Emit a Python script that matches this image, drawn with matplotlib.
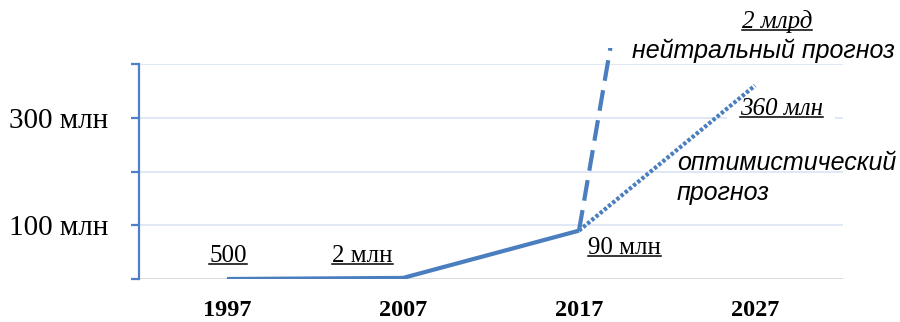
import numpy as np
import matplotlib.pyplot as plt
from matplotlib.lines import Line2D
from matplotlib.transforms import Bbox, TransformedBbox

# users, in millions
years = ['1997', '2007', '2017', '2027']
actual = [0.0005, 2, 90]
actual_labels = ['500', '2 млн', '90 млн']
neutral = [90, 2000]        # 2017 -> 2027
optimistic = [90, 360]      # 2017 -> 2027
neutral_label = '2 млрд'
optimistic_label = '360 млн'
yticks = [0, 100, 200, 300, 400]
ytick_labels = ['', '100 млн', '', '300 млн', '']

blue = '#4a7ebf'
axis_blue = '#4f7fc6'
grid_blue = '#dae4f3'
serif = 'Liberation Serif'
sans = 'Liberation Sans'

fig = plt.figure(figsize=(9, 3.22), dpi=100)
ax = fig.add_axes([0.1544, 0.1335, 0.9367 - 0.1544, 0.8012 - 0.1335])
ax.set_xlim(-0.5, 3.5)
ax.set_ylim(0, 400)

for s in ['top', 'right', 'bottom']:
    ax.spines[s].set_visible(False)
ax.spines['left'].set_color(axis_blue)
ax.spines['left'].set_linewidth(1.6)
ax.axhline(0, color='#d4d4d4', linewidth=1.2, zorder=1)
for y in yticks[1:]:
    ax.axhline(y, color=grid_blue, linewidth=1.2, zorder=1)

ax.set_yticks(yticks)
ax.set_yticklabels(ytick_labels, fontsize=21, family=serif)
ax.tick_params(axis='y', direction='out', length=6, width=1.6, color=axis_blue, pad=16)
ax.set_xticks(range(len(years)))
ax.set_xticklabels(years, fontsize=17.5, family=serif, fontweight='bold')
ax.tick_params(axis='x', length=0, pad=15)

x = np.arange(len(years))
ax.plot(x[:3], actual, color=blue, linewidth=3, solid_capstyle='butt', zorder=4)

# forecasts from 2017; the neutral one runs off the top of the chart
nline, = ax.plot(x[2:], neutral, color=blue, linewidth=3, dashes=(5, 2.3),
                 dash_capstyle='butt', zorder=4)
ax.plot(x[2:], optimistic, color=blue, linewidth=3, dashes=(0.8, 0.5),
        dash_capstyle='butt', zorder=4)
nline.set_clip_box(TransformedBbox(Bbox([[-0.5, 0], [3.5, 430]]), ax.transData))

underlined = []
# labels over the actual values
label_pos = [(0.006, 31), (0.77, 31), (2.26, 46)]
for (lx, ly), lab in zip(label_pos, actual_labels):
    box = dict(facecolor='white', edgecolor='none', pad=5) if lab == actual_labels[-1] else None
    t = ax.text(lx, ly, lab, ha='center', va='baseline', fontsize=18,
                family=serif, zorder=3, bbox=box)
    underlined.append(t)

t = ax.text(3.125, 467, neutral_label, ha='center', va='baseline', fontsize=18,
            family=serif, style='italic', zorder=5)
underlined.append(t)
ax.text(3.045, 412, 'нейтральный прогноз', ha='center', va='baseline', fontsize=18,
        family=sans, style='italic', zorder=5)

t = ax.text(3.15, 306, optimistic_label, ha='center', va='baseline', fontsize=18,
            family=serif, style='italic', zorder=3,
            bbox=dict(facecolor='white', edgecolor='none', pad=9))
underlined.append(t)
ax.text(2.557, 203, 'оптимистический', ha='left', va='baseline', fontsize=18,
        family=sans, style='italic', zorder=5)
ax.text(2.557, 147, 'прогноз', ha='left', va='baseline', fontsize=18,
        family=sans, style='italic', zorder=5)

# underline the value labels
fig.canvas.draw()
r = fig.canvas.get_renderer()
for t in underlined:
    bb = t.get_window_extent(r)
    fs = t.get_fontsize() * fig.dpi / 72
    y = bb.y0 + 0.12 * fs
    fig.add_artist(Line2D([bb.x0, bb.x1], [y, y], transform=None,
                          color='black', linewidth=1.1))

fig.savefig('out.png', dpi=100)
